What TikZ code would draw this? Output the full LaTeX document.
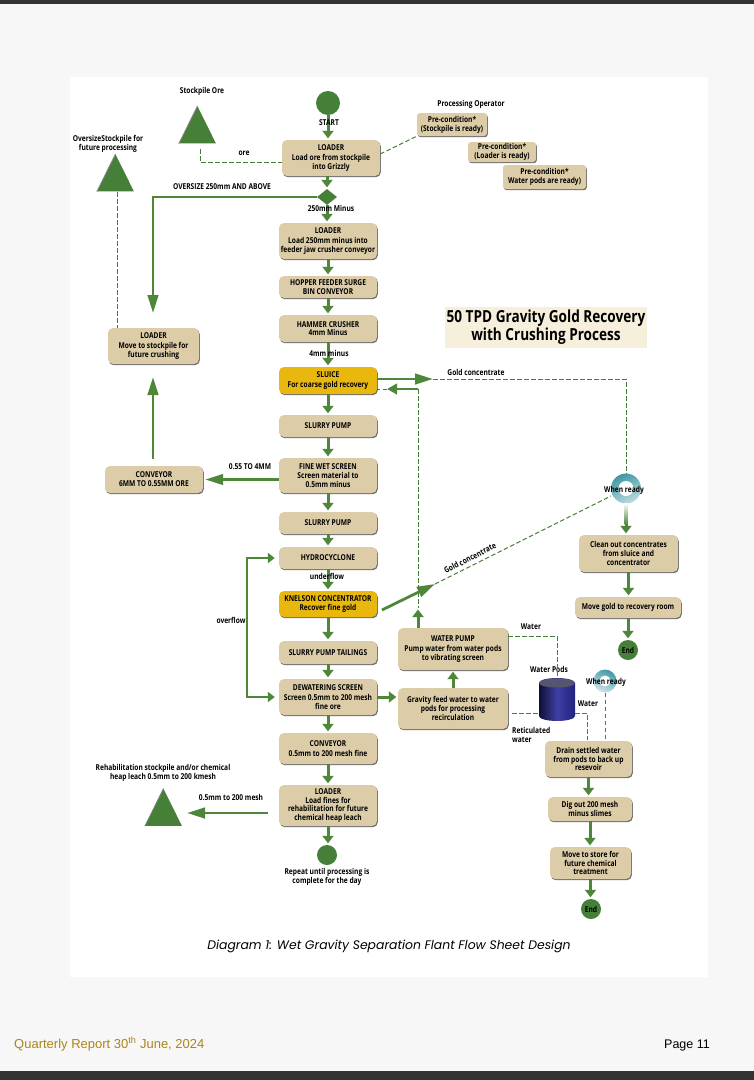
\documentclass[tikz,border=0pt]{standalone}
\usepackage{fontspec}
\setmainfont{Open Sans}[FakeStretch=0.82]
\newfontfamily\captionfont{Poppins}
\newfontfamily\footfont{Liberation Sans}
\usepackage{xcolor}
\usepackage{tikz}
\usetikzlibrary{shapes.geometric, arrows.meta, calc, shadows}
\definecolor{flowgreen}{HTML}{4F873A}
\definecolor{darkgreen}{HTML}{467F38}
\definecolor{boxtan}{HTML}{DCCDA8}
\definecolor{boxgold}{HTML}{E9B80F}
\definecolor{pagegray}{HTML}{F7F7F7}
\definecolor{barblack}{HTML}{333333}
\definecolor{footgold}{HTML}{A9861C}
\definecolor{ringteal}{HTML}{3F98A4}
\definecolor{podblue}{HTML}{2A2A9C}
\definecolor{titletan}{HTML}{F6EFDC}
\tikzset{
  lab/.style={font=\fontsize{8.1}{8.8}\selectfont\bfseries, align=center, inner sep=0pt},
  flowbox/.style={rectangle, fill=boxtan, rounded corners=5pt, align=center, inner sep=0pt, font=\fontsize{8.1}{8.8}\selectfont\bfseries,
    drop shadow={shadow xshift=0.8pt, shadow yshift=-1.2pt, fill=black!70, opacity=0.8}},
  goldbox/.style={flowbox, fill=boxgold},
  flowarrow/.style={-{Triangle[length=7.5pt, width=11pt]}, line width=3pt, draw=flowgreen, shorten >=1.5pt},
  bigarrow/.style={-{Triangle[length=18pt, width=10.5pt]}, line width=2.8pt, draw=flowgreen},
  dashline/.style={draw=darkgreen, line width=1pt, dash pattern=on 4.5pt off 2.5pt},
  pile/.style={isosceles triangle, isosceles triangle apex angle=53, shape border rotate=90, fill=darkgreen, minimum height=37pt, inner sep=0pt},
  dot/.style={circle, fill=darkgreen, inner sep=0pt, font=\fontsize{8.1}{8.8}\selectfont\bfseries},
  hole/.style={circle, fill=white, inner sep=0pt},
}
\begin{document}
\begin{tikzpicture}[x=1pt, y=-1pt]
  \useasboundingbox (0,0) rectangle (754,1080);
  % Sheet and panel
  \fill[pagegray] (0,0) rectangle (754,1080);
  \fill[barblack] (0,0) rectangle (754,4);
  \fill[barblack] (0,1071) rectangle (754,1080);
  \fill[white] (70,77) rectangle (708,977);

  % Title
  \node[fill=titletan, minimum width=202pt, minimum height=41pt, inner sep=0pt, align=center, font=\fontsize{16.6}{18}\selectfont\bfseries] (title) at (546,327.5) {50 TPD Gravity Gold Recovery\\with Crushing Process};

  % Main column
  \node[dot, minimum size=24pt] (start) at (328,103) {};
  \node[flowbox, minimum width=98pt, minimum height=36pt] (loadore) at (331,158) {LOADER\\[1pt]Load ore from stockpile\\into Grizzly};
  \node[diamond, fill=darkgreen, minimum width=20pt, minimum height=16pt, inner sep=0pt] (grizzly) at (327,197) {};
  \node[flowbox, minimum width=98pt, minimum height=36pt] (loadfeed) at (328,241) {LOADER\\[1pt]Load 250mm minus into\\feeder jaw crusher conveyor};
  \node[flowbox, minimum width=98pt, minimum height=22pt] (hopper) at (328,287) {HOPPER FEEDER SURGE\\BIN CONVEYOR};
  \node[flowbox, minimum width=98pt, minimum height=27pt] (hammer) at (328,328.5) {HAMMER CRUSHER\\4mm Minus};
  \node[goldbox, minimum width=98pt, minimum height=27pt] (sluice) at (328,380.5) {SLUICE\\[2pt]For coarse gold recovery};
  \node[flowbox, minimum width=98pt, minimum height=22pt] (pumpa) at (328,426) {SLURRY PUMP};
  \node[flowbox, minimum width=98pt, minimum height=35pt] (finescreen) at (328,475.5) {FINE WET SCREEN\\Screen material to\\0.5mm minus};
  \node[flowbox, minimum width=98pt, minimum height=22pt] (pumpb) at (328,523) {SLURRY PUMP};
  \node[flowbox, minimum width=98pt, minimum height=22pt] (cyclone) at (328,558) {HYDROCYCLONE};
  \node[goldbox, minimum width=98pt, minimum height=26pt] (knelson) at (328,604) {KNELSON CONCENTRATOR\\[1pt]Recover fine gold};
  \node[flowbox, minimum width=98pt, minimum height=23pt] (tailings) at (328,652.5) {SLURRY PUMP TAILINGS};
  \node[flowbox, minimum width=98pt, minimum height=36pt] (dewater) at (328,697) {DEWATERING SCREEN\\[1pt]Screen 0.5mm to 200 mesh\\fine ore};
  \node[flowbox, minimum width=98pt, minimum height=31pt] (conveyfine) at (328,748.5) {CONVEYOR\\[1pt]0.5mm to 200 mesh fine};
  \node[flowbox, minimum width=98pt, minimum height=41pt] (loadfines) at (328,805.5) {LOADER\\Load fines for\\rehabilitation for future\\chemical heap leach};
  \node[dot, minimum size=20pt] (repeat) at (327,855) {};
  \node[lab] (repeattext) at (327,876.5) {Repeat until processing is\\complete for the day};

  % Left column
  \node[pile] (stockpile) at (197.5,132) {};
  \node[lab] (stockpiletext) at (202,91.5) {Stockpile Ore};
  \node[pile] (oversize) at (115.5,180) {};
  \node[lab] (oversizetext) at (108,144) {OversizeStockpile for\\future processing};
  \node[flowbox, minimum width=91pt, minimum height=36pt] (loadmove) at (153.5,346) {LOADER\\[1pt]Move to stockpile for\\future crushing};
  \node[flowbox, minimum width=98pt, minimum height=27pt] (conveyore) at (154,479.5) {CONVEYOR\\6MM TO 0.55MM ORE};
  \node[pile] (rehab) at (163.5,814.5) {};
  \node[lab] (rehabtext) at (163,772.5) {Rehabilitation stockpile and/or chemical\\heap leach 0.5mm to 200 kmesh};
  \draw[gray, line width=0.7pt] (stockpile.left corner) -- (stockpile.apex);
  \draw[gray, line width=0.7pt] (oversize.left corner) -- (oversize.apex);
  \draw[gray, line width=0.7pt] (rehab.left corner) -- (rehab.apex);

  % Operator pre-conditions
  \node[lab] (operator) at (471,104) {Processing Operator};
  \node[flowbox, minimum width=70pt, minimum height=23pt, rounded corners=3pt] (condstock) at (452,124.5) {Pre-condition*\\(Stockpile is ready)};
  \node[flowbox, minimum width=68pt, minimum height=20pt, rounded corners=3pt] (condload) at (502,152) {Pre-condition*\\(Loader is ready)};
  \node[flowbox, minimum width=83pt, minimum height=24pt, rounded corners=3pt] (condpods) at (544.5,177) {Pre-condition*\\Water pods are ready)};

  % Water circuit
  \node[flowbox, minimum width=110pt, minimum height=42pt] (waterpump) at (453,649) {WATER PUMP\\[2pt]Pump water from water pods\\to vibrating screen};
  \node[flowbox, minimum width=110pt, minimum height=41pt] (gravityfeed) at (453,708.5) {Gravity feed water to water\\pods for processing\\recirculation};
  \shade[left color=podblue!35!black, right color=podblue!80!black, middle color=podblue!90!white] (539,683) -- (539,716) arc[start angle=180, end angle=360, x radius=18pt, y radius=5pt] -- (575,683) arc[start angle=0, end angle=180, x radius=18pt, y radius=5pt] -- cycle;
  \fill[podblue!30!black!70!white] (557,683) ellipse[x radius=18pt, y radius=4.5pt];
  \node[minimum width=36pt, minimum height=43pt, inner sep=0pt] (pods) at (557,699.5) {};
  \node[lab] (podstext) at (549,669) {Water Pods};

  % Right column
  \node[circle, top color=ringteal, bottom color=ringteal!35, shading angle=25, minimum size=30pt, inner sep=0pt] (readya) at (626,488.5) {};
  \node[hole, minimum size=15pt] (holea) at (626,488.5) {};
  \node[flowbox, minimum width=99pt, minimum height=37pt] (cleanout) at (628.5,553.5) {Clean out concentrates\\from sluice and\\concentrator};
  \node[flowbox, minimum width=106pt, minimum height=21pt] (movegold) at (628,607.5) {Move gold to recovery room};
  \node[dot, minimum size=20pt] (enda) at (628,650) {End};
  \node[circle, top color=ringteal, bottom color=ringteal!25, shading angle=-25, minimum size=23pt, inner sep=0pt] (readyb) at (605,681) {};
  \node[hole, minimum size=11pt] (holeb) at (605,681) {};
  \node[flowbox, minimum width=87pt, minimum height=36pt] (drain) at (588.5,759) {Drain settled water\\from pods to back up\\resevoir};
  \node[flowbox, minimum width=84pt, minimum height=24pt] (digout) at (590,809) {Dig out 200 mesh\\minus slimes};
  \node[flowbox, minimum width=81pt, minimum height=32pt] (store) at (590.5,863) {Move to store for\\future chemical\\treatment};
  \node[dot, minimum size=20pt] (endb) at (591,909) {End};

  % Bend points of the long lines
  \coordinate (orefoot) at (200,149);
  \coordinate (orebend) at (200,162);
  \coordinate (oversizefoot) at (117,192);
  \coordinate (oversizedrop) at (117,328);
  \coordinate (grizzlybend) at (153,194);
  \coordinate (thickstart) at (153,232);
  \coordinate (arrowtip) at (153,313);
  \coordinate (conveyfoot) at (153,459);
  \coordinate (conveytip) at (153,377);
  \coordinate (rehabfoot) at (268,813);
  \coordinate (rehabtip) at (187,813);
  \coordinate (sluiceout) at (377,379);
  \coordinate (goldtip) at (433,379);
  \coordinate (goldbend) at (626,379);
  \coordinate (returnbend) at (418,389);
  \coordinate (returntip) at (387,389);
  \coordinate (returnfoot) at (418,608);
  \coordinate (pumptop) at (418,628);
  \coordinate (knelsonout) at (382,610);
  \coordinate (knelsontip) at (435,584);
  \coordinate (ringfoot) at (611,496);
  \coordinate (waterout) at (508,636);
  \coordinate (waterbend) at (557,636);
  \coordinate (podstop) at (557,678);
  \coordinate (retleft) at (512,713);
  \coordinate (retright) at (587,713);
  \coordinate (retdrop) at (587,740);

  % Main flow
  \foreach \a/\b in {start/loadore, grizzly/loadfeed, loadfeed/hopper, hopper/hammer, hammer/sluice, sluice/pumpa, pumpa/finescreen, finescreen/pumpb, pumpb/cyclone, cyclone/knelson, knelson/tailings, tailings/dewater, dewater/conveyfine, conveyfine/loadfines, loadfines/repeat, cleanout/movegold, movegold/enda, drain/digout, digout/store, store/endb} {
    \draw[flowarrow] (\a.south) -- (\a.south |- \b.north);
  }
  \draw[flowarrow] (grizzly.north |- loadore.south) -- (grizzly.north);
  \draw[flowarrow] (gravityfeed.north) -- (waterpump.south);
  \draw[flowarrow] (dewater.east) -- (dewater.east -| gravityfeed.west);
  \draw[{Triangle[length=7pt, width=10pt]}-{Triangle[length=7pt, width=10pt]}, line width=2.2pt, draw=flowgreen, shorten >=4pt, shorten <=4pt] (cyclone.west) -- ++(-32,0) |- (dewater.west);

  % Side branches
  \draw[line width=1.5pt, draw=flowgreen] (grizzly.west) -- (grizzly.west -| grizzlybend) -- (thickstart);
  \draw[bigarrow] (thickstart) -- (arrowtip);
  \draw[bigarrow] (conveyfoot) -- (conveytip);
  \draw[bigarrow, shorten >=2pt] (finescreen.west |- conveyore.east) -- (conveyore.east);
  \draw[bigarrow] (rehabfoot) -- (rehabtip);
  \draw[bigarrow] (sluiceout) -- (goldtip);
  \draw[-{Triangle[length=10pt, width=10.5pt]}, line width=2.8pt, draw=flowgreen] (returnbend) -- (returntip);
  \draw[bigarrow] (knelsonout) -- (knelsontip);
  \draw[flowarrow] (pumptop) -- (returnfoot);
  \draw[flowarrow] (readya.south) -- (readya.south |- cleanout.north);
  % Arrow fading out under the ring
  \shade[top color=white, bottom color=flowgreen] (624.5,503.5) rectangle (627.5,524);

  % Dashed lines
  \draw[dashline] (orefoot) -- (orebend) -- (orebend -| loadore.west);
  \draw[dashline] (oversizefoot) -- (oversizedrop);
  \draw[dashline] (loadore.east) ++(0,-4) -- (condstock.south west);
  \draw[dashline] (goldtip) -- (goldbend) -- (readya.north -| goldbend);
  \draw[dashline] (returnbend) -- (returnfoot);
  \draw[dashline] (returntip) -- (sluice.east |- returntip);
  \draw[dashline] (knelsontip) -- (ringfoot);
  \draw[dashline] (waterout) -- (waterbend) -- (podstop);
  \draw[dashline] (retleft) -- (retleft -| pods.west);
  \draw[dashline] (retright -| pods.east) -- (retright) -- (retdrop);
  \draw[dashline] (readyb.south) -- (readyb.south |- drain.north);

  % Connector labels
  \node[lab] (startlab) at (329,123) {START};
  \node[lab] (orelab) at (244,153) {ore};
  \node[lab] (oversizelab) at (222,187) {OVERSIZE 250mm AND ABOVE};
  \node[lab] (minuslab) at (331,208.5) {250mm Minus};
  \node[lab] (fourlab) at (329,353.5) {4mm minus};
  \node[lab] (goldlab) at (476,372) {Gold concentrate};
  \node[lab] (sizelab) at (250,467) {0.55 TO 4MM};
  \node[lab] (underlab) at (327,576) {underflow};
  \node[lab] (overlab) at (231,620) {overflow};
  \node[lab, rotate=27] (goldlabb) at (470,558) {Gold concentrate};
  \node[lab] (whena) at (624,490) {When ready};
  \node[lab] (whenb) at (606,682) {When ready};
  \node[lab] (waterlab) at (531,627) {Water};
  \node[lab] (waterlabb) at (588,704) {Water};
  \node[lab, align=left, anchor=west] (retlab) at (512,735) {Reticulated\\water};
  \node[lab] (meshlab) at (231,797) {0.5mm to 200 mesh};

  % Caption and footer
  \node[inner sep=0pt, font=\captionfont\itshape\fontsize{12.4}{14}\selectfont] (caption) at (389,946) {Diagram 1: Wet Gravity Separation Flant Flow Sheet Design};
  \node[anchor=west, inner sep=0pt, text=footgold, font=\footfont\fontsize{13}{14}\selectfont] (report) at (14,1044) {Quarterly Report 30\textsuperscript{th} June, 2024};
  \node[anchor=east, inner sep=0pt, font=\footfont\fontsize{12.5}{14}\selectfont] (pagenum) at (710,1045) {Page 11};
\end{tikzpicture}
\end{document}
